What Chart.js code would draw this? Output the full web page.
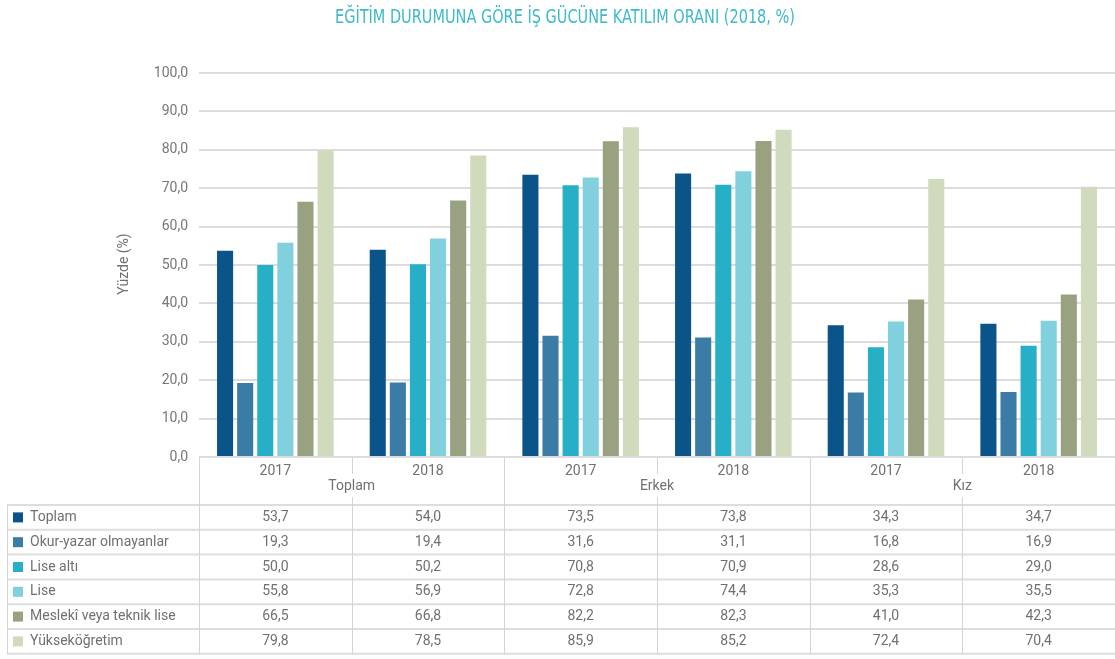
<!DOCTYPE html>
<html>
<head>
<meta charset="utf-8">
<script src="https://cdn.jsdelivr.net/npm/chart.js@4"></script>
<style>
  body { margin: 0; background: #fff; }
</style>
</head>
<body>
<canvas id="chart" width="1115" height="659"></canvas>
<script>
// --------------------------- Data

const title = 'EĞİTİM DURUMUNA GÖRE İŞ GÜCÜNE KATILIM ORANI (2018, %)';
const yAxisTitle = 'Yüzde (%)';

const groups = ['Toplam', 'Erkek', 'Kız'];
const years = ['2017', '2018'];
const columns = ['2017', '2018', '2017', '2018', '2017', '2018'];

const seriesNames = ['Toplam', 'Okur-yazar olmayanlar', 'Lise altı', 'Lise', 'Meslekî veya teknik lise', 'Yükseköğretim'];

const toplam = [53.7, 54.0, 73.5, 73.8, 34.3, 34.7];
const okurYazarOlmayanlar = [19.3, 19.4, 31.6, 31.1, 16.8, 16.9];
const liseAlti = [50.0, 50.2, 70.8, 70.9, 28.6, 29.0];
const lise = [55.8, 56.9, 72.8, 74.4, 35.3, 35.5];
const meslekiTeknik = [66.5, 66.8, 82.2, 82.3, 41.0, 42.3];
const yuksekogretim = [79.8, 78.5, 85.9, 85.2, 72.4, 70.4];

const yMin = 0;
const yMax = 100;
const yStep = 10;

const COLORS = ['#0b5489', '#3a7ca6', '#27afc7', '#80d0dd', '#98a180', '#cfdbbc'];

// --------------------------- Helpers

const FONT = 'Roboto, "DejaVu Sans", sans-serif';
const TEXT_GRAY = '#707070';
const LINE_GRAY = '#d4d4d4';

function fmt(v) {
    return v.toFixed(1).replace('.', ',');
}

// header / table geometry (pixels below the zero line)
const HEADER_H = 47;
const ROW_H = 24.8;

// draws the title, the rotated y title and the data table under the plot
const tablePlugin = {
    id: 'tablePlugin',
    afterDraw(chart) {
        const ctx = chart.ctx;
        const area = chart.chartArea;
        const x = chart.scales.x;
        const y = chart.scales.y;
        const n = columns.length;

        ctx.save();

        // title (squeezed into a narrow width, like a condensed face)
        ctx.fillStyle = '#3fb9cc';
        ctx.font = '20px "DejaVu Sans Condensed", "DejaVu Sans", sans-serif';
        ctx.textAlign = 'center';
        ctx.textBaseline = 'middle';
        ctx.fillText(title, 565, 18, 460);

        // y title
        ctx.save();
        ctx.translate(124, 264);
        ctx.rotate(-Math.PI / 2);
        ctx.font = '14px ' + FONT;
        ctx.fillStyle = TEXT_GRAY;
        ctx.fillText(yAxisTitle, 0, 0);
        ctx.restore();

        // column edges from the category scale
        const centers = [];
        for (let i = 0; i < n; i++) centers.push(x.getPixelForValue(i));
        const edges = [area.left];
        for (let i = 0; i < n - 1; i++) edges.push((centers[i] + centers[i + 1]) / 2);
        edges.push(area.right);

        const top = y.getPixelForValue(0) + 1;
        const headBottom = top + HEADER_H;
        const bottom = headBottom + ROW_H * seriesNames.length;

        // horizontal row lines
        ctx.strokeStyle = '#dddddd';
        ctx.lineWidth = 2;
        for (let r = 0; r <= seriesNames.length; r++) {
            const ly = headBottom + r * ROW_H;
            ctx.beginPath();
            ctx.moveTo(7, ly);
            ctx.lineTo(area.right, ly);
            ctx.stroke();
        }

        // vertical lines
        ctx.strokeStyle = LINE_GRAY;
        ctx.lineWidth = 1;
        const vline = (lx, y0, y1) => {
            ctx.beginPath();
            ctx.moveTo(Math.round(lx) + 0.5, y0);
            ctx.lineTo(Math.round(lx) + 0.5, y1);
            ctx.stroke();
        };
        vline(7, headBottom, bottom);
        for (let i = 0; i < n; i++) {
            if (i % 2 === 1) {
                // year divider inside a group, broken by the group label
                vline(edges[i], top, top + 16);
                vline(edges[i], top + 39, bottom);
            } else {
                vline(edges[i], top, bottom);
            }
        }

        ctx.textAlign = 'center';
        ctx.textBaseline = 'middle';
        ctx.font = '14px ' + FONT;
        ctx.fillStyle = TEXT_GRAY;

        // header: years and group names
        for (let i = 0; i < n; i++) {
            ctx.fillText(columns[i], centers[i], top + 13);
        }
        groups.forEach((g, gi) => {
            ctx.fillText(g, edges[gi * 2 + 1], top + 28);
        });

        // rows: legend swatch, name, values
        chart.data.datasets.forEach((ds, r) => {
            const cy = headBottom + r * ROW_H + ROW_H / 2;
            ctx.fillStyle = ds.backgroundColor;
            ctx.fillRect(13, cy - 5, 10, 10);
            ctx.fillStyle = TEXT_GRAY;
            ctx.textAlign = 'left';
            ctx.fillText(ds.label, 30, cy);
            ctx.textAlign = 'center';
            ds.data.forEach((v, i) => {
                ctx.fillText(fmt(v), centers[i], cy);
            });
        });

        ctx.restore();
    }
};

// --------------------------- Chart

const seriesData = [toplam, okurYazarOlmayanlar, liseAlti, lise, meslekiTeknik, yuksekogretim];

const config = {
    type: 'bar',
    data: {
        labels: columns,
        datasets: seriesNames.map((name, i) => ({
            label: name,
            data: seriesData[i],
            backgroundColor: COLORS[i],
            categoryPercentage: 0.79,
            barPercentage: 0.8,
        })),
    },
    options: {
        responsive: false,
        animation: false,
        layout: {
            padding: { top: 73, bottom: 202, left: 0, right: 0 },
        },
        plugins: {
            legend: { display: false },
            title: { display: false },
            tooltip: { enabled: false },
        },
        scales: {
            x: {
                display: false,
            },
            y: {
                min: yMin,
                max: yMax,
                border: { display: false },
                grid: {
                    color: '#dcdcdc',
                    lineWidth: 2,
                    drawTicks: false,
                },
                ticks: {
                    stepSize: yStep,
                    padding: 11,
                    color: '#777777',
                    font: { family: FONT, size: 14 },
                    callback: (v) => fmt(v),
                },
                afterFit(scale) {
                    scale.width = 199;
                },
            },
        },
    },
    plugins: [tablePlugin],
};

const main_chart = new Chart(document.getElementById('chart'), config);
</script>
</body>
</html>
